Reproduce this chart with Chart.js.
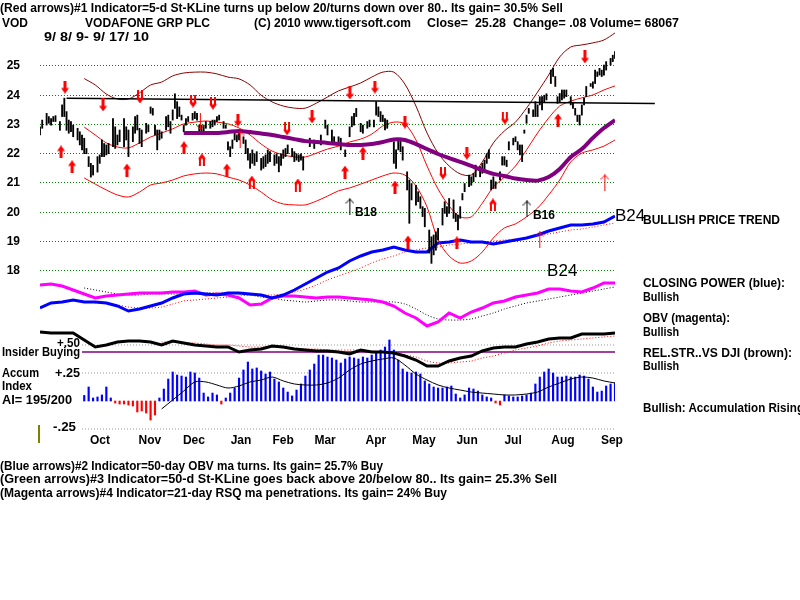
<!DOCTYPE html>
<html><head><meta charset="utf-8">
<script src="https://cdn.jsdelivr.net/npm/chart.js@4/dist/chart.umd.min.js"></script>
<style>
html,body{margin:0;padding:0;background:#fff;width:800px;height:600px;overflow:hidden;}
#wrap{position:relative;width:800px;height:600px;overflow:hidden;}
#c{position:absolute;left:0;top:0;}
.t{position:absolute;white-space:pre;font-family:"Liberation Sans",Arial,sans-serif;font-weight:bold;color:#000;line-height:14px;transform-origin:0 50%;}
#olive{position:absolute;left:38px;top:425px;width:2px;height:18px;background:#808000;}
</style></head>
<body><div id="wrap"><canvas id="c" width="800" height="600"></canvas><div id="olive"></div></div>
<script>
// ---------- axis labels ----------
const monthLabels = ['Oct','Nov','Dec','Jan','Feb','Mar','Apr','May','Jun','Jul','Aug','Sep'];
const monthDays   = [27.1,49.7,69.6,90.9,109.9,128.9,151.9,173.6,193.1,213.9,236.5,258.6];
const priceTicks  = [18,19,20,21,22,23,24,25];

// ---------- daily price bars: [trading day, low, high] ----------
const priceBars = [
[0,22.64,22.92],[1,22.87,23.15],[3,22.98,23.38],[4,23.04,23.27],[5,22.98,23.2],[6,23.1,23.27],[7,23.1,23.3],[9,22.8,23.1],[10,23.27,23.67],[11,23.27,23.9],
[12,22.8,23.44],[13,22.7,23.15],[14,22.75,23.1],[15,22.58,22.98],[17,22.47,22.87],[18,22.3,22.75],[19,22.13,22.64],[20,22.0,22.53],[21,22.0,22.18],[22,21.56,21.9],
[23,21.2,21.67],[24,21.27,21.6],[26,21.37,21.9],[27,21.67,21.96],[28,21.9,22.47],[29,21.9,22.35],[30,21.96,22.3],[31,22.0,22.35],[33,22.24,23.2],[34,22.18,22.92],
[35,22.3,22.64],[36,22.41,22.81],[38,22.24,23.2],[39,22.47,22.92],[40,21.9,22.81],[42,22.41,22.92],[43,22.7,23.27],[44,22.81,23.32],[45,22.35,22.87],[46,22.24,22.81],
[48,22.7,23.04],[49,22.75,22.98],[50,23.38,23.6],[51,23.32,23.55],[52,22.64,22.98],[53,22.13,22.81],[54,22.47,22.81],[55,22.53,22.75],[57,22.81,23.27],[58,22.92,23.32],
[59,22.7,23.1],[60,23.15,23.5],[61,23.55,24.05],[62,23.2,23.78],[63,23.27,23.6],[64,23.15,23.32],[65,22.75,22.98],[66,22.98,23.2],[67,23.1,23.27],[69,23.15,23.38],
[70,23.2,23.44],[71,23.15,23.38],[72,22.7,22.98],[73,22.75,22.98],[74,22.75,22.98],[75,22.87,23.1],[77,22.87,23.1],[78,22.92,23.15],[79,22.98,23.15],[80,23.1,23.27],
[81,23.15,23.32],[83,22.87,23.1],[84,22.87,22.98],[85,22.13,22.41],[86,21.9,22.24],[87,22.18,22.47],[88,22.47,22.7],[89,22.41,22.64],[90,22.47,22.7],[92,22.35,22.58],
[93,22.0,22.47],[94,21.78,22.18],[95,21.5,22.0],[96,21.67,22.13],[97,21.6,22.0],[98,21.73,22.07],[100,21.44,21.84],[101,21.5,21.9],[102,21.56,21.96],[103,21.67,22.13],
[104,21.73,22.07],[106,21.6,21.96],[107,21.67,22.0],[108,21.38,21.9],[109,21.6,22.0],[110,21.84,22.13],[111,21.9,22.18],[112,22.0,22.3],[114,21.9,22.18],[115,21.73,22.07],
[116,21.78,22.0],[117,21.73,21.96],[118,21.78,22.0],[119,21.44,21.9],[122,22.24,22.53],[124,22.18,22.47],[127,22.3,22.64],[129,22.87,23.15],[130,22.64,22.98],[132,22.41,22.81],
[133,22.35,22.58],[135,22.3,22.58],[136,22.13,22.53],[138,21.9,22.13],[140,22.58,22.92],[141,22.92,23.27],[142,22.98,23.38],[143,23.27,23.55],[145,22.75,23.04],[146,22.7,22.98],
[148,22.87,23.1],[149,22.92,23.15],[151,22.92,23.15],[152,23.32,23.78],[153,23.27,23.6],[154,23.1,23.44],[155,23.1,23.32],[156,22.81,23.2],[157,22.87,23.15],[160,21.67,22.41],
[161,21.5,22.13],[162,22.13,22.47],[163,22.07,22.53],[164,21.78,22.24],[166,20.76,21.38],[167,19.62,21.1],[168,20.42,20.98],[170,20.24,20.92],[171,20.36,20.7],[172,20.13,20.53],
[173,19.85,20.19],[174,19.5,20.13],[176,18.6,19.39],[177,18.25,19.16],[178,18.54,19.22],[179,18.7,19.33],[180,19.05,19.45],[182,19.56,20.13],[183,19.96,20.36],[184,19.85,20.19],
[185,19.96,20.47],[187,19.79,20.42],[188,19.68,19.96],[189,19.39,19.9],[190,19.79,20.19],[191,20.42,20.64],[192,20.7,20.98],[194,20.87,21.27],[195,20.92,21.21],[196,21.04,21.33],
[197,21.21,21.61],[199,21.21,21.56],[200,21.33,21.67],[201,21.44,21.78],[202,21.67,22.0],[203,21.84,22.13],[204,20.76,21.1],[205,20.81,21.21],[206,20.81,21.04],[208,21.1,21.38],
[209,21.61,21.9],[210,21.61,21.9],[211,21.56,21.78],[212,22.13,22.41],[214,22.3,22.53],[215,22.41,22.58],[216,22.13,22.41],[217,21.96,22.3],[218,21.73,22.3],[219,22.7,22.81],
[220,23.04,23.32],[221,23.38,23.55],[223,23.27,23.5],[224,23.27,23.78],[225,23.27,23.67],[226,23.67,23.95],[227,23.5,23.95],[228,23.78,24.0],[229,23.84,24.05],[231,24.4,24.86],
[232,24.64,24.92],[233,24.3,24.64],[234,23.72,23.95],[235,23.78,24.06],[236,23.84,24.18],[237,23.9,24.18],[238,23.95,24.18],[240,23.67,23.95],[241,23.55,23.72],[242,23.32,23.55],
[243,23.1,23.32],[244,22.98,23.32],[245,23.32,23.67],[246,23.67,23.9],[247,23.95,24.3],[249,24.3,24.4],[250,24.24,24.46],[251,24.4,24.86],[252,24.64,24.8],[253,24.69,24.92],
[254,24.64,24.86],[255,24.69,25.03],[256,24.86,25.15],[258,25.03,25.26],[259,25.15,25.37],[260,25.26,25.49]
];

// ---------- bands and moving average (price units, every 5 days) ----------
const bandStart = 20, bandStep = 5;
const outerUpperBand = [24.57,24.35,24.04,23.87,23.87,24.08,24.35,24.45,24.66,24.76,24.79,24.79,24.73,24.62,24.56,24.35,24.0,23.77,23.63,23.56,23.56,23.73,23.94,24.15,24.28,24.42,24.62,24.79,24.79,24.38,23.63,22.71,22.02,21.58,21.31,21.27,21.72,22.37,22.78,23.08,23.56,24.11,24.69,25.31,25.65,25.72,25.79,25.89,26.13];
const innerUpperBand = [22.91,22.64,22.37,22.23,22.20,22.37,22.57,22.71,22.85,23.02,23.08,23.12,23.08,23.02,22.88,22.64,22.33,22.09,21.96,21.89,21.89,22.02,22.16,22.26,22.40,22.50,22.67,22.95,23.08,23.02,22.47,21.58,20.79,20.21,19.84,19.84,20.31,20.86,21.20,21.58,22.13,22.71,23.22,23.63,23.80,23.91,24.01,24.18,24.32];
const lowerBand = [21.17,20.96,20.76,20.59,20.52,20.69,20.93,21.0,21.10,21.24,21.31,21.34,21.31,21.20,21.10,20.93,20.69,20.42,20.28,20.25,20.25,20.38,20.55,20.73,20.83,20.96,21.10,21.24,21.34,21.27,20.90,20.18,19.05,18.50,18.26,18.33,18.64,19.12,19.46,19.60,19.84,20.14,20.59,21.10,21.72,22.02,22.13,22.26,22.47];
const maStart = 65;
const priceMA = [22.71,22.71,22.71,22.71,22.74,22.78,22.74,22.69,22.64,22.57,22.50,22.43,22.40,22.37,22.33,22.30,22.30,22.33,22.40,22.49,22.47,22.33,22.16,21.99,21.85,21.72,21.58,21.44,21.31,21.24,21.15,21.10,21.08,21.20,21.48,21.89,22.16,22.54,22.88,23.15];
const resistanceDays = [12,278];
const resistancePrices = [23.90,23.72];

// ---------- indicators (every 5 days) ----------
const closingPower = [1.2,1.7,1.8,2.0,1.8,1.8,1.7,1.4,0.9,1.1,1.4,1.7,2.2,2.6,2.7,2.6,2.5,2.7,2.7,2.6,2.5,2.2,2.5,3.0,3.6,4.2,4.8,5.2,5.9,6.4,6.8,7.0,7.3,7.0,6.8,6.8,7.7,7.8,8.0,7.8,7.8,7.6,7.8,8.0,8.2,8.5,8.9,9.2,9.5,9.5,9.6,9.8,10.4];
const closingPowerMAStart = 25;
const closingPowerMA = [1.7,1.7,1.5,1.3,1.2,1.2,1.3,1.6,1.9,2.0,2.1,2.2,2.3,2.4,2.5,2.5,2.5,2.6,2.8,3.1,3.5,4.0,4.4,4.8,5.2,5.7,6.1,6.4,6.8,7.0,7.2,7.3,7.5,7.6,7.7,7.8,7.9,8.0,8.1,8.2,8.4,8.6,8.8,9.0,9.1,9.3,9.5,9.7];
const obv = [4.5,4.6,4.4,4.0,3.6,3.2,3.4,3.5,3.6,3.7,3.7,3.7,3.8,3.8,3.9,3.5,3.6,3.5,3.2,2.5,2.6,3.2,3.4,3.4,3.3,3.2,3.3,3.3,3.2,3.1,3.0,2.8,2.4,1.7,1.2,0.4,0.8,1.7,1.2,1.8,2.2,2.7,2.9,3.3,3.5,3.7,4.1,4.1,3.9,3.8,4.2,4.7,4.7];
const obvMAStart = 20;
const obvMA = [4.2,4.0,3.8,3.6,3.5,3.5,3.6,3.6,3.6,3.6,3.6,3.7,3.7,3.7,3.6,3.5,3.3,3.2,3.0,2.9,2.8,2.9,3.0,3.0,2.9,2.8,2.8,2.8,2.8,2.6,2.1,1.5,1.1,1.0,1.0,1.1,1.4,1.7,2.1,2.4,2.7,2.9,3.1,3.3,3.5,3.7,3.9,4.1,4.3];
const relStrength = [3.8,3.7,3.7,3.7,3.0,2.3,2.5,2.8,2.9,2.9,2.8,2.5,2.9,2.7,2.5,2.4,2.3,2.3,1.8,2.0,2.1,2.4,2.3,2.1,2.0,1.9,1.9,1.8,1.6,2.0,1.8,1.8,1.7,1.4,1.0,0.4,0.4,0.9,1.2,1.4,1.9,2.2,2.3,2.3,2.6,2.8,3.1,3.2,3.2,3.6,3.6,3.6,3.7];
const relStrengthMAStart = 55;
const relStrengthMA = [2.8,2.8,2.7,2.7,2.6,2.5,2.5,2.4,2.3,2.3,2.3,2.2,2.2,2.1,2.1,2.0,2.0,2.0,2.0,1.9,1.8,1.7,1.5,1.3,0.9,0.7,0.7,0.8,0.9,1.2,1.4,1.7,2.0,2.2,2.4,2.7,2.9,3.0,3.1,3.2,3.3,3.4];
const insiderLevel = 1.8;
const insiderDays = [19,260];

// ---------- accumulation index (every 2 days from day 20) ----------
const accumStart = 20, accumStep = 2;
const accumIndex = [0.05,0.125,0.027,0.036,0.054,0.125,0.027,-0.018,-0.027,-0.027,
-0.036,-0.045,-0.098,-0.089,-0.107,-0.17,-0.125,0.027,0.107,0.196,
0.259,0.232,0.223,0.214,0.259,0.25,0.205,0.071,0.036,0.071,
0.054,-0.027,0.027,0.071,0.116,0.205,0.277,0.348,0.286,0.295,
0.268,0.241,0.259,0.196,0.17,0.116,0.08,0.045,0.098,0.152,
0.223,0.277,0.33,0.41,0.41,0.393,0.384,0.366,0.339,0.375,
0.393,0.384,0.375,0.393,0.384,0.41,0.429,0.455,0.482,0.545,
0.455,0.366,0.286,0.259,0.25,0.259,0.241,0.179,0.152,0.125,
0.116,0.116,0.125,0.134,0.0625,0.027,0.054,0.116,0.107,0.089,
0.054,0.036,0.027,-0.018,-0.036,0.054,0.045,0.036,0.036,0.045,
0.054,0.071,0.152,0.214,0.259,0.286,0.25,0.214,0.214,0.223,
0.214,0.214,0.232,0.223,0.196,0.125,0.08,0.089,0.134,0.152,0.161];
const accumMAStart = 55;
const accumMA = [-0.071,0.009,0.089,0.17,0.17,0.143,0.116,0.134,0.17,0.1875,0.214,0.179,0.152,0.143,0.143,0.161,0.205,0.277,0.33,0.357,0.375,0.384,0.321,0.241,0.1875,0.143,0.116,0.098,0.08,0.071,0.0625,0.054,0.054,0.0625,0.08,0.125,0.161,0.196,0.214,0.205,0.179,0.161];
const accumLevels = [0.5,0.25,-0.25];

// ---------- signal arrows: [day, price] ----------
const redDownSolid  = [[11.3,24.28],[28.5,23.67],[89.5,23.15],[123,23.26],[140.1,24.08],[151.4,24.28],[165,23.08],[193,22.02],[246.4,25.31]];
const redDownDouble = [[45.2,23.94],[69.2,23.80],[78.2,23.73],[111.7,22.85],[182.2,21.34],[210.2,23.22]];
const redUpSolid    = [[9.5,22.06],[14.5,21.55],[39.3,21.44],[65.1,22.20],[84.5,21.44],[137.9,21.37],[146,22.02],[160.5,20.86],[166.4,18.98],[188.5,18.95],[234.2,23.15]];
const redUpDouble   = [[73.2,21.79],[95.8,21.03],[116.6,20.93],[204.8,20.25]];
const redUpThin     = [[226,19.05],[255.4,21.0],[90.5,22.5]];
const redDownThin   = [[72.5,23.1]];
const blackUpThin   = [[140.1,20.18],[220.2,20.11]];

// signal labels
const sigText  = ['B18','B16','B24','B24'];
const sigDay   = [142.4,222.9,260,229.3];
const sigPrice = [19.97,19.87,19.87,17.99];
const sigFont  = ['bold 12px "Liberation Sans", Arial','bold 12px "Liberation Sans", Arial','17px "Liberation Sans", Arial','17px "Liberation Sans", Arial'];

// ---------- page texts ----------
const pageTexts = [
 ['(Red arrows)#1 Indicator=5-d St-KLine turns up below 20/turns down over 80.. Its gain= 30.5% Sell',0,8,563,12],
 ['VOD',2,23,26,12],
 ['VODAFONE GRP PLC',85,23,125,12],
 ['(C) 2010 www.tigersoft.com',254,23,157,12],
 ['Close=  25.28  Change= .08 Volume= 68067',427,23,252,12],
 ['9/ 8/ 9- 9/ 17/ 10',44,37,105,12],
 ['BULLISH PRICE TREND',643,220,137,13],
 ['CLOSING POWER (blue):',643,283,142,13],
 ['Bullish',643,297,36,13],
 ['OBV (magenta):',643,318,87,13],
 ['Bullish',643,332,36,13],
 ['REL.STR..VS DJI (brown):',643,353,149,13],
 ['Bullish',643,366,36,13],
 ['Bullish: Accumulation Rising',643,408,161,13],
 ['Insider Buying',2,352,78,12],
 ['Accum',2,373,37,12],
 ['Index',2,386,30,12],
 ['AI= 195/200',2,400,70,12],
 ['+.50',57,343,23,12],
 ['+.25',55,373,25,12],
 ['-.25',53,427,23,12],
 ['(Blue arrows)#2 Indicator=50-day OBV ma turns. Its gain= 25.7% Buy',0,466,383,12],
 ['(Green arrows)#3 Indicator=50-d St-KLine goes back above 20/below 80.. Its gain= 25.3% Sell',0,479,557,12],
 ['(Magenta arrows)#4 Indicator=21-day RSQ ma penetrations. Its gain= 24% Buy',0,493,447,12]
];

const wrap = document.getElementById('wrap');
pageTexts.forEach(([txt,x,yc,w,fs])=>{
  const d=document.createElement('div');
  d.className='t'; d.textContent=txt;
  d.style.fontSize=fs+'px'; d.style.left=x+'px'; d.style.top=(yc-7)+'px';
  wrap.appendChild(d);
  const mw=d.getBoundingClientRect().width;
  if(mw>0) d.style.transform='scaleX('+(w/mw).toFixed(4)+')';
});

// ---------- helpers ----------
const series = (start, step, vals) => vals.map((v,i)=>({x:start+i*step, y:v}));
const pts = arr => arr.map(([x,y])=>({x,y}));

function arrowImg(dir, kind, color){
  const c=document.createElement('canvas');
  const w = kind==='thin'?9:8, h = kind==='thin'?17:13;
  c.width=w; c.height=h;
  const g=c.getContext('2d');
  if(dir==='down'){ g.translate(0,h); g.scale(1,-1); }
  g.fillStyle=color; g.strokeStyle=color;
  if(kind==='thin'){
    g.lineWidth=1;
    g.beginPath(); g.moveTo(w/2,0.5); g.lineTo(w/2,h); g.stroke();
    g.beginPath(); g.moveTo(0.5,5); g.lineTo(w/2,0.5); g.lineTo(w-0.5,5); g.stroke();
  } else {
    g.beginPath(); g.moveTo(w/2,0); g.lineTo(w,5.5); g.lineTo(0,5.5); g.closePath(); g.fill();
    if(kind==='solid') g.fillRect(w/2-1.5,5,3,h-5);
    else { g.fillRect(w/2-3,5,2,h-5); g.fillRect(w/2+1,5,2,h-5); }
  }
  return c;
}

const F = '"Liberation Sans", Arial, sans-serif';
const lineDs = (data, color, width, yAxisID, order, extra) => Object.assign({
  type:'line', data, borderColor:color, borderWidth:width, pointRadius:0, fill:false,
  tension:0.3, yAxisID, order
}, extra||{});
const arrowDs = (data, img, order) => ({
  type:'line', data:pts(data), showLine:false, pointStyle:img, pointRadius:5,
  yAxisID:'y', order:order
});

const labelPlugin = {
  id:'sigLabels',
  afterDatasetsDraw(chart){
    const {ctx, scales} = chart;
    ctx.save(); ctx.textBaseline='middle'; ctx.textAlign='left'; ctx.fillStyle='#000';
    sigText.forEach((t,i)=>{
      ctx.font=sigFont[i];
      ctx.fillText(t, scales.x.getPixelForValue(sigDay[i]), scales.y.getPixelForValue(sigPrice[i]));
    });
    ctx.restore();
  }
};

const hidden = (min,max)=>({type:'linear', display:false, min, max});

new Chart(document.getElementById('c'), {
  type:'line',
  data:{ datasets:[
    arrowDs(redDownSolid, arrowImg('down','solid','#ff0000'), 0),
    arrowDs(redDownDouble, arrowImg('down','double','#ff0000'), 0),
    arrowDs(redUpSolid, arrowImg('up','solid','#ff0000'), 0),
    arrowDs(redUpDouble, arrowImg('up','double','#ff0000'), 0),
    arrowDs(redUpThin, arrowImg('up','thin','#ff0000'), 0),
    arrowDs(redDownThin, arrowImg('down','thin','#ff0000'), 0),
    arrowDs(blackUpThin, arrowImg('up','thin','#000000'), 0),
    lineDs(series(maStart,bandStep,priceMA), '#800080', 4, 'y', 1),
    { type:'bar', data:priceBars.map(([d,l,h])=>({x:d,y:[l,h]})), backgroundColor:'#000',
      barThickness:1.2, grouped:false, yAxisID:'y', order:2 },
    lineDs(resistanceDays.map((d,i)=>({x:d,y:resistancePrices[i]})), '#000', 1.5, 'y', 3, {tension:0, clip:false}),
    lineDs(series(bandStart,bandStep,outerUpperBand), '#8b0000', 1, 'y', 4),
    lineDs(series(bandStart,bandStep,innerUpperBand), '#ff0000', 1, 'y', 4),
    lineDs(series(bandStart,bandStep,lowerBand), '#ff0000', 1, 'y', 4),
    lineDs(series(0,5,closingPower), '#0000ff', 3, 'yCp', 5, {tension:0}),
    lineDs(series(closingPowerMAStart,5,closingPowerMA), '#ff0000', 1, 'yCp', 6, {borderDash:[1,2]}),
    lineDs(series(0,5,obv), '#ff00ff', 3, 'yObv', 5, {tension:0}),
    lineDs(series(obvMAStart,5,obvMA), '#000', 1, 'yObv', 6, {borderDash:[1,2]}),
    lineDs(series(0,5,relStrength), '#000', 3, 'yRs', 5, {tension:0}),
    lineDs(series(relStrengthMAStart,5,relStrengthMA), '#ff0000', 1, 'yRs', 6, {borderDash:[1,2]}),
    lineDs(insiderDays.map(d=>({x:d,y:insiderLevel})), '#800080', 1.5, 'yRs', 7, {tension:0}),
    lineDs(series(accumMAStart,5,accumMA), '#000', 1, 'yAcc', 5),
    { type:'bar', data:series(accumStart,accumStep,accumIndex),
      backgroundColor:c=>(c.raw && c.raw.y<0)?'#ff0000':'#0000ff',
      barThickness:1.5, grouped:false, yAxisID:'yAcc', order:8 },
    ...accumLevels.map(v=>lineDs([{x:19,y:v},{x:260,y:v}], '#999999', 1, 'yAcc', 9, {tension:0, borderDash:[1,2]}))
  ]},
  options:{
    responsive:false, animation:false, devicePixelRatio:1, events:[],
    layout:{ padding:{ top:30, right:185, bottom:0, left:0 } },
    plugins:{ legend:{display:false}, tooltip:{enabled:false} },
    scales:{
      x:{ type:'linear', min:0, max:260, offset:false,
          grid:{display:false, drawTicks:false}, border:{display:false},
          afterBuildTicks:a=>{ a.ticks = monthDays.map(v=>({value:v})); },
          afterFit:a=>{ a.height = 170; },
          ticks:{ autoSkip:false, maxRotation:0, padding:3, color:'#000',
                  font:{family:F, size:12, weight:'bold'},
                  callback:(v,i)=>monthLabels[i] } },
      y:{ type:'linear', position:'left', min:12.551, max:26.231,
          afterBuildTicks:a=>{ a.ticks = priceTicks.map(v=>({value:v})); },
          afterFit:a=>{ a.width = 40; },
          grid:{ color:'#008800', lineWidth:1, drawTicks:false },
          border:{ display:false, dash:[1,2] },
          ticks:{ padding:20, color:'#000', font:{family:F, size:12, weight:'bold'} } },
      yCp: hidden(-11,29),
      yObv: hidden(-10,30),
      yRs: hidden(-6,34),
      yAcc: hidden(-0.2589,3.3125)
    }
  },
  plugins:[labelPlugin]
});
</script>
</body></html>
